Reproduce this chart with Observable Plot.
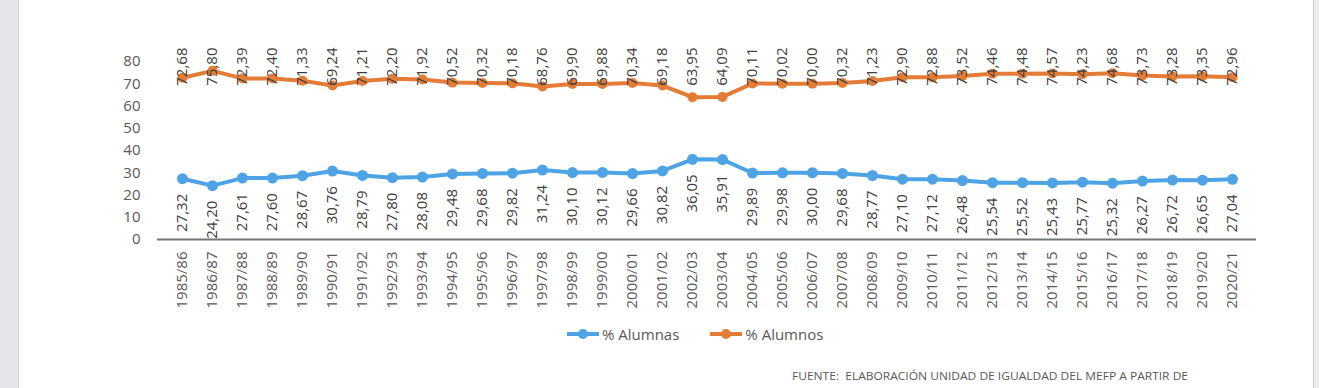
<!DOCTYPE html>
<html>
<head>
<meta charset="utf-8">
<script src="https://cdn.jsdelivr.net/npm/d3@7"></script>
<script src="https://cdn.jsdelivr.net/npm/@observablehq/plot@0.6"></script>
<style>
  html, body { margin: 0; padding: 0; background: #fff; }
  #wrap { position: relative; width: 1319px; height: 388px; overflow: hidden; background: #fff; font-family: "Open Sans", sans-serif; }
  #leftbar { position: absolute; left: 0; top: 0; width: 18px; height: 388px; background: #e6e6ea; border-right: 1px solid #d6d6da; }
  #rightbar { position: absolute; left: 1313px; top: 0; width: 6px; height: 388px; background: #ececef; border-left: 1px solid #c9c9cd; }
  #chart { position: absolute; left: 0; top: 0; }
  #legend { position: absolute; top: 324px; left: 566px; display: flex; align-items: center; font-size: 15px; color: #595959; white-space: nowrap; }
  #legend .item { display: flex; align-items: center; margin-right: 30px; }
  #legend svg { margin-right: 2px; }
  #caption { position: absolute; left: 790px; top: 366px; }
</style>
</head>
<body>
<div id="wrap">
  <div id="leftbar"></div>
  <div id="rightbar"></div>
  <div id="chart"></div>
  <div id="legend"></div>
  <div id="caption"></div>
</div>
<script>
const years = ["1985/86","1986/87","1987/88","1988/89","1989/90","1990/91","1991/92","1992/93","1993/94","1994/95","1995/96","1996/97","1997/98","1998/99","1999/00","2000/01","2001/02","2002/03","2003/04","2004/05","2005/06","2006/07","2007/08","2008/09","2009/10","2010/11","2011/12","2012/13","2013/14","2014/15","2015/16","2016/17","2017/18","2018/19","2019/20","2020/21"];
const alumnas = [27.32,24.20,27.61,27.60,28.67,30.76,28.79,27.80,28.08,29.48,29.68,29.82,31.24,30.10,30.12,29.66,30.82,36.05,35.91,29.89,29.98,30.00,29.68,28.77,27.10,27.12,26.48,25.54,25.52,25.43,25.77,25.32,26.27,26.72,26.65,27.04];
const alumnos = [72.68,75.80,72.39,72.40,71.33,69.24,71.21,72.20,71.92,70.52,70.32,70.18,68.76,69.90,69.88,70.34,69.18,63.95,64.09,70.11,70.02,70.00,70.32,71.23,72.90,72.88,73.52,74.46,74.48,74.57,74.23,74.68,73.73,73.28,73.35,72.96];
const yTicks = [0,10,20,30,40,50,60,70,80];
const seriesNames = ["% Alumnas","% Alumnos"];
const seriesColors = ["#4da3e4","#e47c36"];
const sourceText = "FUENTE:  ELABORACIÓN UNIDAD DE IGUALDAD DEL MEFP A PARTIR DE";

const fmt = v => v.toFixed(2).replace(".", ",");
const dA = years.map((yr, i) => ({year: yr, value: alumnas[i]}));
const dO = years.map((yr, i) => ({year: yr, value: alumnos[i]}));

const chart = Plot.plot({
  width: 1319,
  height: 320,
  marginLeft: 157,
  marginRight: 63,
  marginTop: 61,
  marginBottom: 81,
  x: {type: "point", domain: years, padding: 0.5},
  y: {domain: [0, 80]},
  style: {fontFamily: "Open Sans, sans-serif", fontSize: "15px", color: "#595959", background: "transparent"},
  marks: [
    Plot.axisY({ticks: yTicks, tickSize: 0, tickPadding: 17, fontSize: 15, label: null, fill: "#595959"}),
    Plot.axisX({tickSize: 0, tickPadding: 12, tickRotate: -90, fontSize: 15, label: null, fill: "#595959"}),
    Plot.ruleY([0], {stroke: "#767676", strokeWidth: 2}),
    Plot.line(dA, {x: "year", y: "value", stroke: seriesColors[0], strokeWidth: 4}),
    Plot.dot(dA, {x: "year", y: "value", r: 5.5, fill: seriesColors[0]}),
    Plot.line(dO, {x: "year", y: "value", stroke: seriesColors[1], strokeWidth: 4}),
    Plot.dot(dO, {x: "year", y: "value", r: 5, fill: seriesColors[1]}),
    Plot.text(dO, {x: "year", text: d => fmt(d.value), frameAnchor: "top", dy: -14, rotate: -90, textAnchor: "end", lineAnchor: "middle", fill: "#404040", fontSize: 15}),
    Plot.text(dA, {x: "year", y: "value", text: d => fmt(d.value), dy: 15, rotate: -90, textAnchor: "end", lineAnchor: "middle", fill: "#404040", fontSize: 15})
  ]
});
document.getElementById("chart").appendChild(chart);

// legend
const legend = document.getElementById("legend");
seriesNames.forEach((name, i) => {
  const item = document.createElement("div");
  item.className = "item";
  item.innerHTML = `<svg width="34" height="12"><line x1="1" x2="33" y1="6" y2="6" stroke="${seriesColors[i]}" stroke-width="4"/><circle cx="17" cy="6" r="5" fill="${seriesColors[i]}"/></svg><span>${name}</span>`;
  legend.appendChild(item);
});

// caption
document.getElementById("caption").innerHTML =
  `<svg width="420" height="22"><text x="2" y="14" font-size="11.5" fill="#595959" font-family="Open Sans, sans-serif" textLength="396" lengthAdjust="spacingAndGlyphs" xml:space="preserve">${sourceText}</text></svg>`;
</script>
</body>
</html>
